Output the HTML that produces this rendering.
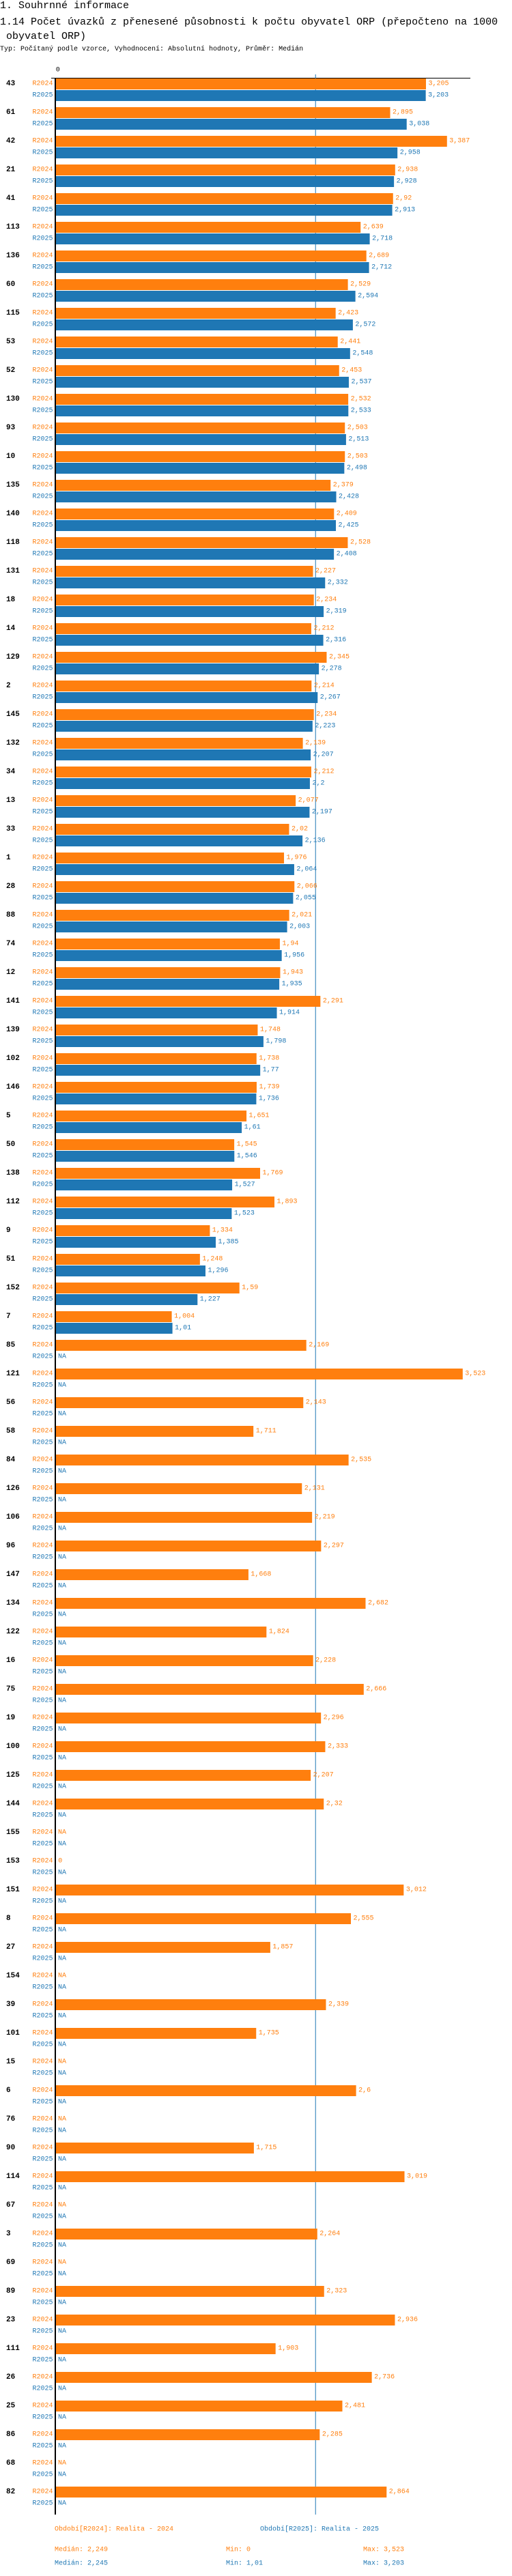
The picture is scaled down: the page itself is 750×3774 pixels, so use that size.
<!DOCTYPE html>
<html><head><meta charset="utf-8">
<style>
body{margin:0;background:#fff;width:750px;height:3774px;overflow:hidden;font-family:"Liberation Mono",monospace;}
.h{position:absolute;left:0;white-space:nowrap;color:#000;}
</style></head>
<body>
<div class="h" style="top:0;font-size:15px;line-height:17px;">1. Souhrnné informace</div>
<div class="h" style="top:22px;font-size:15px;line-height:21px;">1.14 Počet úvazků z přenesené působnosti k počtu obyvatel ORP (přepočteno na 1000<br>&nbsp;obyvatel ORP)</div>
<div class="h" style="top:67px;font-size:10px;line-height:12px;">Typ: Počítaný podle vzorce, Vyhodnocení: Absolutní hodnoty, Průměr: Medián</div>
<svg id="chart" width="750" height="3774" style="position:absolute;left:0;top:0" xmlns="http://www.w3.org/2000/svg"></svg>
<script>
const categories=["43","61","42","21","41","113","136","60","115","53","52","130","93","10","135","140","118","131","18","14","129","2","145","132","34","13","33","1","28","88","74","12","141","139","102","146","5","50","138","112","9","51","152","7","85","121","56","58","84","126","106","96","147","134","122","16","75","19","100","125","144","155","153","151","8","27","154","39","101","15","6","76","90","114","67","3","69","89","23","111","26","25","86","68","82"];
const r2024=[3.205,2.895,3.387,2.938,2.92,2.639,2.689,2.529,2.423,2.441,2.453,2.532,2.503,2.503,2.379,2.409,2.528,2.227,2.234,2.212,2.345,2.214,2.234,2.139,2.212,2.077,2.02,1.976,2.066,2.021,1.94,1.943,2.291,1.748,1.738,1.739,1.651,1.545,1.769,1.893,1.334,1.248,1.59,1.004,2.169,3.523,2.143,1.711,2.535,2.131,2.219,2.297,1.668,2.682,1.824,2.228,2.666,2.296,2.333,2.207,2.32,null,0,3.012,2.555,1.857,null,2.339,1.735,null,2.6,null,1.715,3.019,null,2.264,null,2.323,2.936,1.903,2.736,2.481,2.285,null,2.864];
const r2025=[3.203,3.038,2.958,2.928,2.913,2.718,2.712,2.594,2.572,2.548,2.537,2.533,2.513,2.498,2.428,2.425,2.408,2.332,2.319,2.316,2.278,2.267,2.223,2.207,2.2,2.197,2.136,2.064,2.055,2.003,1.956,1.935,1.914,1.798,1.77,1.736,1.61,1.546,1.527,1.523,1.385,1.296,1.227,1.01];
const median2024=2.249;
const seriesNames=["R2024","R2025"];

const svg=document.getElementById('chart');
const NS='http://www.w3.org/2000/svg';
const X0=81.7, PXU=169.2, TOP=115, PITCH=42;
const orange='#ff7f0e', blue='#1f77b4';
function xs(v){return X0+v*PXU;}
function fmt(v){return String(v).replace('.',',');}
function mk(tag,attrs){const e=document.createElementNS(NS,tag);for(const k in attrs)e.setAttribute(k,attrs[k]);svg.appendChild(e);return e;}
function txt(x,y,s,fill,size,weight,anchor){const t=mk('text',{x:x,y:y,fill:fill,'font-size':size,'font-family':'Liberation Mono, monospace','font-weight':weight||'normal','text-anchor':anchor||'start','dominant-baseline':'central'});t.textContent=s;return t;}

const bottom=TOP+PITCH*(categories.length-1)+41;
let t0=txt(X0,103,'0','#000',10);


let ax=mk('line',{x1:75,y1:114.5,x2:689,y2:114.5,stroke:'#000','stroke-width':1});


let md=mk('line',{x1:xs(median2024),y1:109,x2:xs(median2024),y2:bottom,stroke:blue,'stroke-width':1});



categories.forEach((c,i)=>{
  const y=TOP+PITCH*i;
  const g=txt(9,y+8,c,'#000',11,'bold');
  
  
  [[r2024[i],orange,0,seriesNames[0]],[r2025[i],blue,17,seriesNames[1]]].forEach(([v,col,off,nm])=>{
    const yy=y+off;
    const l=txt(77.5,yy+8,nm,col,10,'normal','end');
    
    
    if(v===null||v===undefined){
      const n=txt(85,yy+8,'NA',col,10);
      
      
    }else{
      const w=v*PXU;
      if(w>0){
        const r=mk('rect',{x:X0,y:yy,width:w,height:16,fill:col});
        
        
      }
      const vl=txt(xs(v)+3.5,yy+8,fmt(v),col,10);
      
      
    }
  });
});
let ya=mk('line',{x1:81,y1:114,x2:81,y2:bottom,stroke:'#000','stroke-width':2});



const legend=[[80,3706,'Období[R2024]: Realita - 2024',orange,'legend-r2024'],[381,3706,'Období[R2025]: Realita - 2025',blue,'legend-r2025'],
[80,3736,'Medián: 2,249',orange,'median-r2024'],[331,3736,'Min: 0',orange,'min-r2024'],[532,3736,'Max: 3,523',orange,'max-r2024'],
[80,3756,'Medián: 2,245',blue,'median-r2025'],[331,3756,'Min: 1,01',blue,'min-r2025'],[532,3756,'Max: 3,203',blue,'max-r2025']];
legend.forEach(([x,y,s,col,nm])=>{
  const t=txt(x,y,s,col,10);
  
  
});
</script>
</body></html>
